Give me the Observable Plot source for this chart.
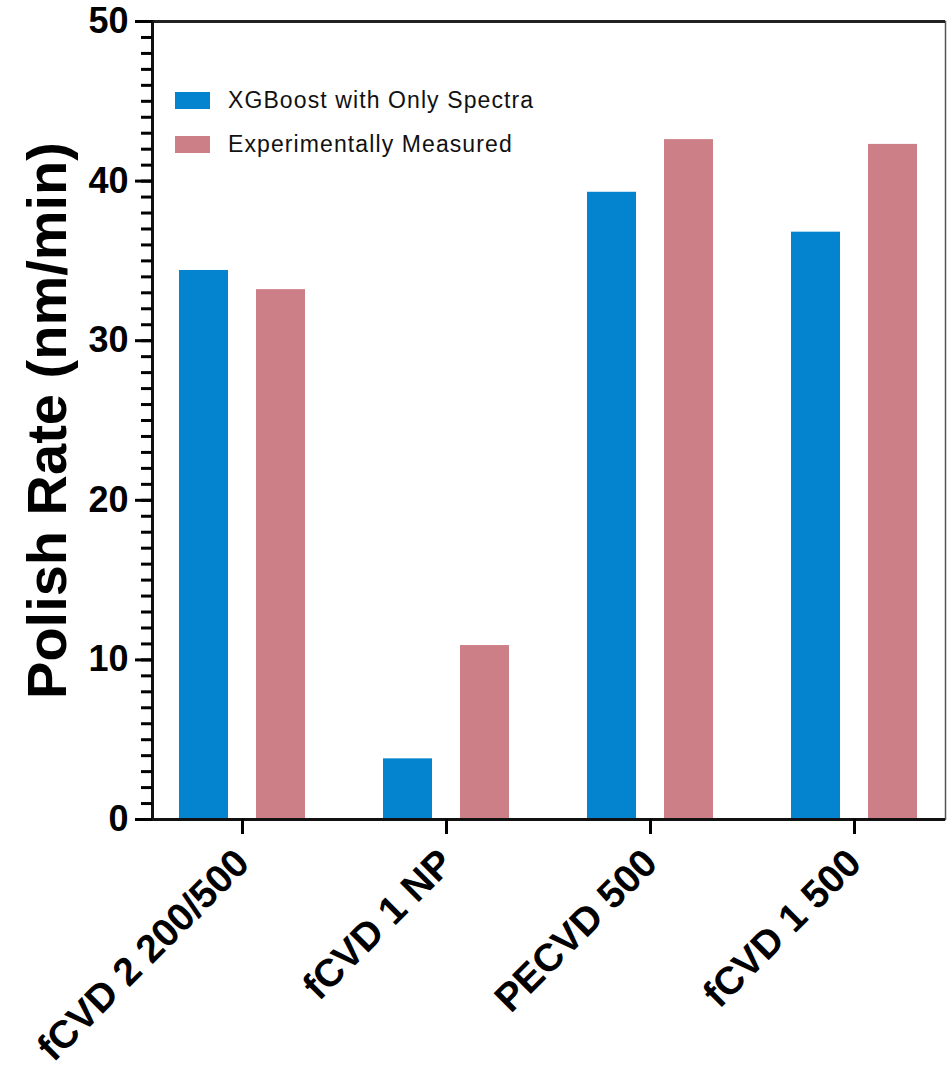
<!DOCTYPE html>
<html>
<head>
<meta charset="utf-8">
<script src="https://cdn.jsdelivr.net/npm/d3@7"></script>
<script src="https://cdn.jsdelivr.net/npm/@observablehq/plot@0.6"></script>
<style>
  body { margin: 0; background: #fff; }
  #wrap { position: relative; width: 947px; height: 1068px; font-family: "Liberation Sans", Arial, sans-serif; }
  .legend { position: absolute; left: 175px; top: 78px; }
  .item { display: flex; align-items: center; height: 44px; }
  .sw { width: 35px; height: 17px; margin-right: 18px; }
  .lab { font-size: 23px; letter-spacing: 1.1px; color: #111; white-space: nowrap; }
</style>
</head>
<body>
<div id="wrap"></div>
<script>
const categories = ["fCVD 2 200/500", "fCVD 1 NP", "PECVD 500", "fCVD 1 500"];
const seriesNames = ["XGBoost with Only Spectra", "Experimentally Measured"];
const xgboostValues = [34.4, 3.8, 39.3, 36.8];
const measuredValues = [33.2, 10.9, 42.6, 42.3];
const seriesColors = ["#0484cf", "#cd7f87"];
const yMajorTicks = [0, 10, 20, 30, 40, 50];
const yMinorTicks = d3.range(0, 51, 1);
const yLabel = "Polish Rate (nm/min)";

const xgbRows = categories.map((c, i) => ({category: c, series: seriesNames[0], value: xgboostValues[i]}));
const measRows = categories.map((c, i) => ({category: c, series: seriesNames[1], value: measuredValues[i]}));

const chart = Plot.plot({
  width: 947,
  height: 1068,
  marginLeft: 152,
  marginRight: 2,
  marginTop: 21,
  marginBottom: 249,
  style: {fontFamily: "'Liberation Sans', Arial, sans-serif", background: "white", color: "black"},
  x: {domain: categories, paddingInner: 0.38, paddingOuter: 0.129, label: null},
  y: {domain: [0, 50], label: null},
  marks: [
    Plot.frame({stroke: "#555", strokeWidth: 1.5}),
    Plot.barY(xgbRows, {x: "category", y: "value", fill: seriesColors[0], insetRight: 77}),
    Plot.barY(measRows, {x: "category", y: "value", fill: seriesColors[1], insetLeft: 77}),
    Plot.ruleY([50], {stroke: "#222", strokeWidth: 3}),
    Plot.ruleY([0], {stroke: "#111", strokeWidth: 3}),
    Plot.frame({anchor: "left", stroke: "#111", strokeWidth: 3}),
    Plot.axisY({ticks: yMinorTicks, tickSize: 11, strokeWidth: 3, text: null, label: null}),
    Plot.axisY({ticks: yMajorTicks, tickSize: 17, strokeWidth: 3, tickPadding: 7, fontSize: 36, fontWeight: "bold", label: null}),
    Plot.axisX({tickRotate: -45, tickSize: 15, strokeWidth: 3, tickPadding: 22, fontSize: 39, fontWeight: "bold", label: null}),
    Plot.text([yLabel], {text: d => d, frameAnchor: "left", textAnchor: "middle", rotate: -90, dx: -104, fontSize: 56, fontWeight: "bold", fill: "black"})
  ]
});

const wrap = document.getElementById("wrap");
wrap.appendChild(chart);

const legend = document.createElement("div");
legend.className = "legend";
seriesNames.forEach((name, i) => {
  const item = document.createElement("div");
  item.className = "item";
  const sw = document.createElement("div");
  sw.className = "sw";
  sw.style.background = seriesColors[i];
  const lab = document.createElement("span");
  lab.className = "lab";
  lab.textContent = name;
  item.appendChild(sw);
  item.appendChild(lab);
  legend.appendChild(item);
});
wrap.appendChild(legend);
</script>
</body>
</html>
